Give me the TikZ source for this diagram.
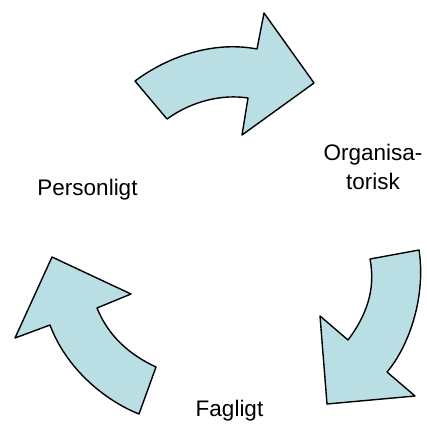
\documentclass[tikz,border=0pt]{standalone}
\usepackage{fontspec}
\setmainfont{Liberation Sans}
\usepackage{xcolor}
\definecolor{arrowblue}{RGB}{185,222,227}

\begin{document}
\begin{tikzpicture}[x=1pt,y=-1pt]
		\tikzset{blockarrow/.style={fill=arrowblue,draw=black,line width=1.4pt,line join=round},
			lbl/.style={anchor=base,align=center,font=\fontsize{22.5}{28.6}\selectfont,inner sep=0pt}}
		\useasboundingbox (0,0) rectangle (427,424);
		
		\draw[blockarrow] (135,81) .. controls (170,55) and (215,41) .. (257,49) -- (264,13) -- (314,83) -- (242,135) -- (248,98) .. controls (222,94) and (192,101) .. (167,119) -- cycle;
		\draw[blockarrow] (370,259) .. controls (376,290) and (366,316) .. (348,340) -- (320,316) -- (327,404) -- (415,396) -- (387,372) .. controls (410,345) and (426,295) .. (419,250) -- cycle;
		\draw[blockarrow] (52,257) -- (131,294) -- (97,308) .. controls (108,335) and (128,354) .. (156,367) -- (139,414) .. controls (104,400) and (66,368) .. (50,325) -- (15,338) -- cycle;
		
		\node[lbl] (pers) at (87.5,195) {Personligt};
		\node[lbl] (org) at (373,189.3) {Organisa-\\torisk};
		\node[lbl] (fag) at (229.5,416.5) {Fagligt};
	\end{tikzpicture}
\end{document}
